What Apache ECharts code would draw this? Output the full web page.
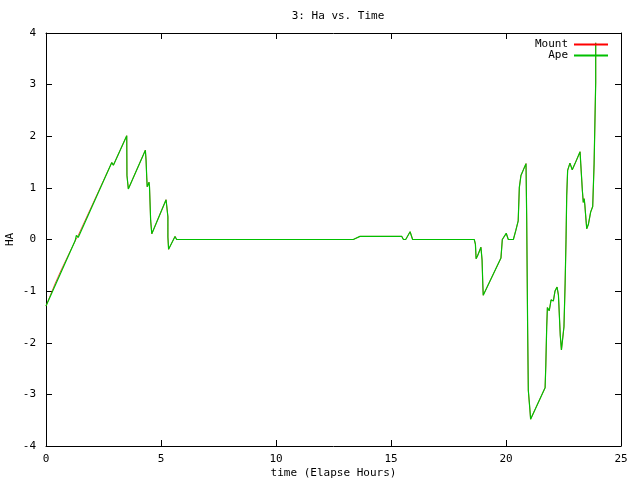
<!DOCTYPE html>
<html>
<head>
<meta charset="utf-8">
<script src="https://cdn.jsdelivr.net/npm/echarts@6/dist/echarts.min.js"></script>
<style>html,body{margin:0;padding:0;background:#fff;}#c{width:640px;height:480px;}</style>
</head>
<body>
<div id="c"></div>
<script>
var titleText = '3: Ha vs. Time';
var xName = 'time (Elapse Hours)';
var yName = 'HA';
var seriesNames = ['Mount', 'Ape'];

var apeTime = [0, 1.27, 1.32, 1.40, 2.86, 2.93, 3.51, 3.52, 3.58, 4.32, 4.35, 4.38, 4.40, 4.48, 4.50, 4.55, 4.60, 5.22, 5.30, 5.30, 5.33, 5.61, 5.68,
  13.36, 13.65, 15.47, 15.54, 15.64, 15.83, 15.94, 18.62, 18.67, 18.70, 18.76, 18.91, 18.96, 18.99, 19.01, 19.78, 19.84, 20.01, 20.10, 20.32,
  20.43, 20.53, 20.58, 20.65, 20.87, 20.90, 20.94, 20.97, 21.04, 21.07, 21.70, 21.73, 21.77, 21.80, 21.88, 21.96, 22.06, 22.13, 22.22, 22.28,
  22.36, 22.41, 22.48, 22.52, 22.57, 22.61, 22.64, 22.68, 22.78, 22.88, 23.00, 23.22, 23.25, 23.32, 23.36, 23.40, 23.43, 23.48, 23.51, 23.58,
  23.68, 23.77, 23.83, 23.90, 23.90];
var apeHa = [-1.29, -0.02, 0.08, 0.04, 1.49, 1.44, 2.01, 1.24, 0.98, 1.73, 1.54, 1.20, 1.02, 1.11, 1.02, 0.37, 0.11, 0.77, 0.44, 0.05, -0.19, 0.06, 0.00,
  0.00, 0.06, 0.06, 0.00, 0.00, 0.15, 0.00, 0.00, -0.09, -0.37, -0.32, -0.15, -0.40, -0.85, -1.08, -0.36, 0.00, 0.12, 0.00, 0.00,
  0.18, 0.36, 1.01, 1.24, 1.47, 0.40, -1.69, -2.92, -3.30, -3.48, -2.87, -2.45, -1.69, -1.32, -1.38, -1.17, -1.19, -1.00, -0.92, -1.08,
  -1.86, -2.14, -2.13, -1.69, -0.86, 0.00, 0.85, 1.34, 1.48, 1.35, 1.47, 1.70, 1.47, 0.95, 0.72, 0.79, 0.66, 0.37, 0.21, 0.29,
  0.53, 0.64, 1.46, 3.04, 3.81];

var mountTime = [0, 0.39, 0.66, 1.30, 1.36, 1.40, 2.86, 2.93, 3.51, 3.52, 3.58, 4.32, 4.35, 4.38, 4.40, 4.48, 4.50, 4.55, 4.60, 5.22, 5.30, 5.30, 5.33, 5.61, 5.68,
  13.36, 13.65, 15.47, 15.54, 15.64, 15.83, 15.94, 18.62, 18.67, 18.70, 18.76, 18.91, 18.96, 18.99, 19.01, 19.78, 19.84, 20.01, 20.10, 20.32,
  20.43, 20.53, 20.58, 20.65, 20.87, 20.90, 20.94, 20.97, 21.04, 21.07, 21.70, 21.73, 21.77, 21.80, 21.88, 21.96, 22.06, 22.13, 22.22, 22.28,
  22.36, 22.41, 22.48, 22.52, 22.57, 22.61, 22.64, 22.68, 22.78, 22.88, 23.00, 23.22, 23.25, 23.32, 23.36, 23.40, 23.43, 23.48, 23.51, 23.58,
  23.68, 23.77, 23.83, 23.90, 23.90];
var mountHa = [-1.29, -0.86, -0.59, 0.00, 0.04, 0.04, 1.49, 1.44, 2.01, 1.24, 0.98, 1.73, 1.54, 1.20, 1.02, 1.11, 1.02, 0.37, 0.11, 0.77, 0.44, 0.05, -0.19, 0.06, 0.00,
  0.00, 0.06, 0.06, 0.00, 0.00, 0.15, 0.00, 0.00, -0.09, -0.37, -0.32, -0.15, -0.40, -0.85, -1.08, -0.36, 0.00, 0.12, 0.00, 0.00,
  0.18, 0.36, 1.01, 1.24, 1.47, 0.40, -1.69, -2.92, -3.30, -3.48, -2.87, -2.45, -1.69, -1.32, -1.38, -1.17, -1.19, -1.00, -0.92, -1.08,
  -1.86, -2.14, -2.13, -1.69, -0.86, 0.00, 0.85, 1.34, 1.48, 1.35, 1.47, 1.70, 1.47, 0.95, 0.72, 0.79, 0.66, 0.37, 0.21, 0.29,
  0.53, 0.64, 1.46, 3.04, 3.81];

function zip(a, b) { return a.map(function (v, i) { return [v, b[i]]; }); }

var FONT = 'DejaVu Sans Mono';
var chart = echarts.init(document.getElementById('c'), null, { renderer: 'canvas' });
var axisCommon = {
  axisLine: { show: true, onZero: false, lineStyle: { color: '#000', width: 1 } },
  axisTick: { show: true, inside: true, length: 6, lineStyle: { color: '#000', width: 1 } },
  splitLine: { show: false }
};
chart.setOption({
  animation: false,
  backgroundColor: '#fff',
  title: {
    text: titleText, left: 333, top: 6, textAlign: 'center',
    textStyle: { fontFamily: FONT, fontSize: 11, fontWeight: 'normal', color: '#000' }
  },
  legend: {
    orient: 'vertical', right: 27, top: 34, align: 'right', itemGap: 0,
    itemWidth: 34, itemHeight: 2, icon: 'rect',
    textStyle: { fontFamily: FONT, fontSize: 11, color: '#000', lineHeight: 11, padding: [0, 1, 0, 0] },
    data: seriesNames
  },
  grid: { left: 46, right: 19, top: 33, bottom: 34, containLabel: false, outerBoundsMode: 'none' },
  xAxis: [
    Object.assign({}, axisCommon, {
      type: 'value', min: 0, max: 25, interval: 5, position: 'bottom',
      name: xName, nameLocation: 'middle', nameGap: 22, nameMoveOverlap: false,
      nameTextStyle: { fontFamily: FONT, fontSize: 11, color: '#000' },
      axisLabel: { fontFamily: FONT, fontSize: 11, color: '#000', margin: 8 }
    }),
    Object.assign({}, axisCommon, {
      type: 'value', min: 0, max: 25, interval: 5, position: 'top',
      axisLabel: { show: false }
    })
  ],
  yAxis: [
    Object.assign({}, axisCommon, {
      type: 'value', min: -4, max: 4, interval: 1, position: 'left',
      name: yName, nameLocation: 'middle', nameGap: 30, nameMoveOverlap: false,
      nameTextStyle: { fontFamily: FONT, fontSize: 11, color: '#000' },
      axisLabel: { fontFamily: FONT, fontSize: 11, color: '#000', margin: 10 }
    }),
    Object.assign({}, axisCommon, {
      type: 'value', min: -4, max: 4, interval: 1, position: 'right',
      axisLabel: { show: false }
    })
  ],
  series: [
    {
      name: seriesNames[0], type: 'line', data: zip(mountTime, mountHa),
      showSymbol: false, symbol: 'none', color: '#ff0000', z: 2,
      lineStyle: { color: '#ff0000', width: 0.7 }, xAxisIndex: 0, yAxisIndex: 0
    },
    {
      name: seriesNames[1], type: 'line', data: zip(apeTime, apeHa),
      showSymbol: false, symbol: 'none', color: '#00c000', z: 3,
      lineStyle: { color: '#00c000', width: 1.2 }, xAxisIndex: 0, yAxisIndex: 0
    }
  ]
});
</script>
</body>
</html>
